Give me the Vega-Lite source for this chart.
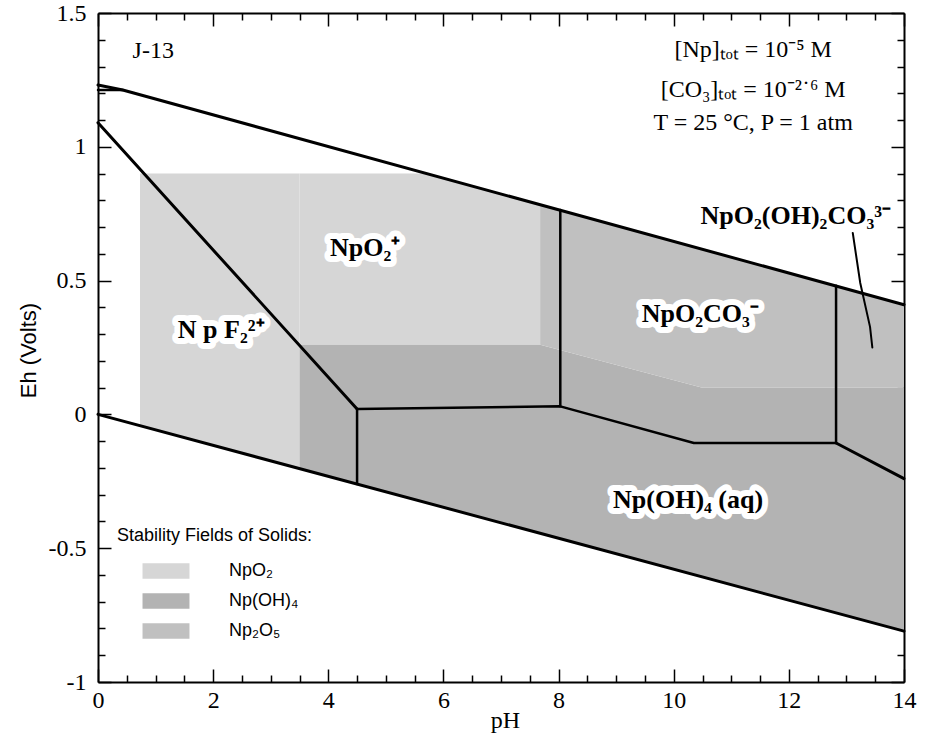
{
  "$schema": "https://vega.github.io/schema/vega-lite/v6.json",
  "width": 806,
  "height": 669,
  "autosize": "none",
  "padding": {"left": 98, "top": 13, "right": 21, "bottom": 54},
  "background": "white",
  "config": {
    "view": {"stroke": null},
    "axis": {
      "grid": false,
      "domainColor": "black",
      "domainWidth": 2,
      "tickColor": "black",
      "tickWidth": 1.5,
      "labelFont": "Liberation Serif",
      "labelFontSize": 24,
      "labelColor": "black",
      "titleColor": "black"
    }
  },
  "datasets": {
    "fields": [
      {"solid": "NpO₂", "part": "a", "pH": 0.73, "top": 0.9, "bottom": -0.042},
      {"solid": "NpO₂", "part": "a", "pH": 3.5, "top": 0.9, "bottom": -0.2025},
      {"solid": "NpO₂", "part": "b", "pH": 3.5, "top": 0.9, "bottom": 0.26},
      {"solid": "NpO₂", "part": "b", "pH": 5.72, "top": 0.9, "bottom": 0.26},
      {"solid": "NpO₂", "part": "b", "pH": 7.68, "top": 0.784, "bottom": 0.26},
      {"solid": "Np(OH)₄", "part": "c", "pH": 3.5, "top": 0.26, "bottom": -0.2025},
      {"solid": "Np(OH)₄", "part": "c", "pH": 7.68, "top": 0.26, "bottom": -0.444},
      {"solid": "Np(OH)₄", "part": "c", "pH": 10.5, "top": 0.1, "bottom": -0.608},
      {"solid": "Np(OH)₄", "part": "c", "pH": 14, "top": 0.1, "bottom": -0.81},
      {"solid": "Np₂O₅", "part": "d", "pH": 7.68, "top": 0.784, "bottom": 0.26},
      {"solid": "Np₂O₅", "part": "d", "pH": 10.5, "top": 0.618, "bottom": 0.1},
      {"solid": "Np₂O₅", "part": "d", "pH": 14, "top": 0.41, "bottom": 0.1}
    ],
    "lines": [
      {"seg": "O2", "weight": "heavy", "ord": 1, "pH": 0, "Eh": 1.231},
      {"seg": "O2", "weight": "heavy", "ord": 2, "pH": 0.43, "Eh": 1.212},
      {"seg": "O2", "weight": "heavy", "ord": 3, "pH": 14, "Eh": 0.41},
      {"seg": "O2b", "weight": "medium", "ord": 1, "pH": 0, "Eh": 1.212},
      {"seg": "O2b", "weight": "medium", "ord": 2, "pH": 0.43, "Eh": 1.212},
      {"seg": "H2", "weight": "heavy", "ord": 1, "pH": 0, "Eh": 0},
      {"seg": "H2", "weight": "heavy", "ord": 2, "pH": 14, "Eh": -0.81},
      {"seg": "NpF2", "weight": "heavy", "ord": 1, "pH": 0, "Eh": 1.09},
      {"seg": "NpF2", "weight": "heavy", "ord": 2, "pH": 4.5, "Eh": 0.02},
      {"seg": "mid", "weight": "medium", "ord": 1, "pH": 4.5, "Eh": 0.02},
      {"seg": "mid", "weight": "medium", "ord": 2, "pH": 8.03, "Eh": 0.03},
      {"seg": "mid", "weight": "medium", "ord": 3, "pH": 10.35, "Eh": -0.107},
      {"seg": "mid", "weight": "medium", "ord": 4, "pH": 12.82, "Eh": -0.107},
      {"seg": "diag", "weight": "heavy", "ord": 1, "pH": 12.82, "Eh": -0.107},
      {"seg": "diag", "weight": "heavy", "ord": 2, "pH": 14, "Eh": -0.24},
      {"seg": "v1", "weight": "medium", "ord": 1, "pH": 4.5, "Eh": 0.02},
      {"seg": "v1", "weight": "medium", "ord": 2, "pH": 4.5, "Eh": -0.26},
      {"seg": "v2", "weight": "medium", "ord": 1, "pH": 8.03, "Eh": 0.03},
      {"seg": "v2", "weight": "medium", "ord": 2, "pH": 8.03, "Eh": 0.764},
      {"seg": "v3", "weight": "medium", "ord": 1, "pH": 12.82, "Eh": -0.107},
      {"seg": "v3", "weight": "medium", "ord": 2, "pH": 12.82, "Eh": 0.481},
      {"seg": "lead", "weight": "thin", "ord": 1, "pH": 13.11, "Eh": 0.678},
      {"seg": "lead", "weight": "thin", "ord": 2, "pH": 13.24, "Eh": 0.491},
      {"seg": "lead", "weight": "thin", "ord": 3, "pH": 13.41, "Eh": 0.327},
      {"seg": "lead", "weight": "thin", "ord": 4, "pH": 13.45, "Eh": 0.25}
    ],
    "species": [
      {"text": "NpO₂⁺", "pH": 4.64, "Eh": 0.622},
      {"text": "N p F₂²⁺", "pH": 2.14, "Eh": 0.315},
      {"text": "NpO₂CO₃⁻", "pH": 10.46, "Eh": 0.375},
      {"text": "NpO₂(OH)₂CO₃³⁻", "pH": 12.12, "Eh": 0.741},
      {"text": "Np(OH)₄ (aq)", "pH": 10.25, "Eh": -0.32}
    ],
    "notes": [
      {"text": "J-13", "pH": 0.96, "Eh": 1.358},
      {"text": "[Np]ₜₒₜ = 10⁻⁵ M", "pH": 11.38, "Eh": 1.362},
      {"text": "[CO₃]ₜₒₜ = 10⁻²˙⁶ M", "pH": 11.38, "Eh": 1.212},
      {"text": "T = 25 °C,  P = 1 atm", "pH": 11.38, "Eh": 1.088}
    ]
  },
  "resolve": {"axis": {"x": "independent", "y": "independent"}},
  "layer": [
    {
      "data": {"name": "fields"},
      "mark": {"type": "area", "opacity": 1},
      "encoding": {
        "x": {
          "field": "pH", "type": "quantitative",
          "scale": {"domain": [0, 14], "nice": false, "zero": false},
          "axis": {
            "orient": "bottom",
            "values": [0, 0.5, 1, 1.5, 2, 2.5, 3, 3.5, 4, 4.5, 5, 5.5, 6, 6.5, 7, 7.5, 8, 8.5, 9, 9.5, 10, 10.5, 11, 11.5, 12, 12.5, 13, 13.5, 14],
            "labelExpr": "datum.value % 2 == 0 ? '' + datum.value : ''",
            "tickSize": {"condition": {"test": "datum.value % 2 == 0", "value": -13}, "value": -7},
            "labelPadding": 19,
            "labelFlush": false,
            "title": "pH",
            "titleFont": "Liberation Serif",
            "titleFontSize": 24,
            "titleFontWeight": "normal",
            "titleX": 407,
            "titleY": 38,
            "titleBaseline": "middle"
          }
        },
        "y": {
          "field": "top", "type": "quantitative",
          "scale": {"domain": [-1, 1.5], "nice": false, "zero": false},
          "axis": {
            "orient": "left",
            "values": [-1, -0.9, -0.8, -0.7, -0.6, -0.5, -0.4, -0.3, -0.2, -0.1, 0, 0.1, 0.2, 0.3, 0.4, 0.5, 0.6, 0.7, 0.8, 0.9, 1, 1.1, 1.2, 1.3, 1.4, 1.5],
            "labelExpr": "abs(datum.value * 2 - round(datum.value * 2)) < 0.000001 ? '' + datum.value : ''",
            "tickSize": {"condition": {"test": "abs(datum.value * 2 - round(datum.value * 2)) < 0.000001", "value": -13}, "value": -7},
            "labelPadding": 25,
            "labelFlush": false,
            "title": "Eh (Volts)",
            "titleFont": "Liberation Sans",
            "titleFontSize": 22,
            "titleFontWeight": "normal",
            "titleAngle": 270,
            "titleAlign": "center",
            "titleBaseline": "middle",
            "titleX": -70,
            "titleY": 337
          }
        },
        "y2": {"field": "bottom"},
        "detail": {"field": "part"},
        "fill": {
          "field": "solid", "type": "nominal",
          "scale": {"domain": ["NpO₂", "Np(OH)₄", "Np₂O₅"], "range": ["#d6d6d6", "#b3b3b3", "#c0c0c0"]},
          "legend": {
            "title": "Stability Fields of Solids:",
            "orient": "none",
            "legendX": 19,
            "legendY": 514,
            "symbolType": "M-3,-1H3V1H-3Z",
            "symbolSize": 245,
            "symbolOffset": 40,
            "symbolStrokeWidth": 0,
            "labelOffset": 54,
            "rowPadding": 12,
            "titleFont": "Liberation Sans",
            "titleFontSize": 18,
            "titleFontWeight": "normal",
            "titleColor": "black",
            "titleLimit": 400,
            "titlePadding": 17,
            "labelFont": "Liberation Sans",
            "labelFontSize": 18,
            "labelColor": "black",
            "labelLimit": 300
          }
        }
      }
    },
    {
      "data": {"name": "lines"},
      "mark": {"type": "line", "color": "black", "strokeCap": "round", "strokeJoin": "round"},
      "encoding": {
        "x": {
          "field": "pH", "type": "quantitative",
          "scale": {"domain": [0, 14], "nice": false, "zero": false},
          "axis": {
            "orient": "top",
            "values": [0, 0.5, 1, 1.5, 2, 2.5, 3, 3.5, 4, 4.5, 5, 5.5, 6, 6.5, 7, 7.5, 8, 8.5, 9, 9.5, 10, 10.5, 11, 11.5, 12, 12.5, 13, 13.5, 14],
            "labels": false,
            "tickSize": {"condition": {"test": "datum.value % 2 == 0", "value": -13}, "value": -7},
            "title": null
          }
        },
        "y": {
          "field": "Eh", "type": "quantitative",
          "scale": {"domain": [-1, 1.5], "nice": false, "zero": false},
          "axis": {
            "orient": "right",
            "values": [-1, -0.9, -0.8, -0.7, -0.6, -0.5, -0.4, -0.3, -0.2, -0.1, 0, 0.1, 0.2, 0.3, 0.4, 0.5, 0.6, 0.7, 0.8, 0.9, 1, 1.1, 1.2, 1.3, 1.4, 1.5],
            "labels": false,
            "tickSize": {"condition": {"test": "abs(datum.value * 2 - round(datum.value * 2)) < 0.000001", "value": -13}, "value": -7},
            "title": null
          }
        },
        "detail": {"field": "seg"},
        "order": {"field": "ord"},
        "strokeWidth": {
          "field": "weight", "type": "nominal",
          "scale": {"domain": ["heavy", "medium", "thin"], "range": [3, 2, 1]},
          "legend": null
        }
      }
    },
    {
      "data": {"name": "species"},
      "mark": {"type": "text", "font": "Liberation Serif", "fontSize": 26, "fontWeight": "bold", "fill": "white", "stroke": "white", "strokeWidth": 12, "strokeJoin": "round", "align": "center", "baseline": "middle"},
      "encoding": {
        "x": {"field": "pH", "type": "quantitative", "scale": {"domain": [0, 14], "nice": false, "zero": false}, "axis": null},
        "y": {"field": "Eh", "type": "quantitative", "scale": {"domain": [-1, 1.5], "nice": false, "zero": false}, "axis": null},
        "text": {"field": "text"}
      }
    },
    {
      "data": {"name": "species"},
      "mark": {"type": "text", "font": "Liberation Serif", "fontSize": 26, "fontWeight": "bold", "color": "black", "align": "center", "baseline": "middle"},
      "encoding": {
        "x": {"field": "pH", "type": "quantitative", "scale": {"domain": [0, 14], "nice": false, "zero": false}, "axis": null},
        "y": {"field": "Eh", "type": "quantitative", "scale": {"domain": [-1, 1.5], "nice": false, "zero": false}, "axis": null},
        "text": {"field": "text"}
      }
    },
    {
      "data": {"name": "notes"},
      "mark": {"type": "text", "font": "Liberation Serif", "fontSize": 24, "color": "black", "align": "center", "baseline": "middle"},
      "encoding": {
        "x": {"field": "pH", "type": "quantitative", "scale": {"domain": [0, 14], "nice": false, "zero": false}, "axis": null},
        "y": {"field": "Eh", "type": "quantitative", "scale": {"domain": [-1, 1.5], "nice": false, "zero": false}, "axis": null},
        "text": {"field": "text"}
      }
    }
  ]
}
